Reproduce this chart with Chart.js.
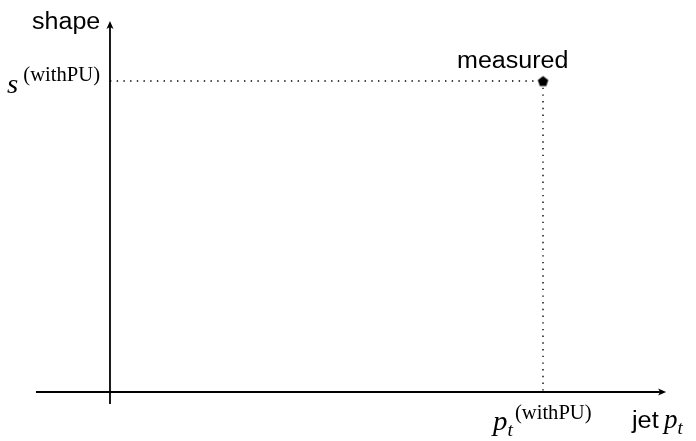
<!DOCTYPE html>
<html>
<head>
<meta charset="utf-8">
<script src="https://cdn.jsdelivr.net/npm/chart.js@4"></script>
<style>
  html, body { margin: 0; padding: 0; background: #fff; }
  #wrap { width: 696px; height: 441px; }
</style>
</head>
<body>
<div id="wrap"><canvas id="c" width="696" height="441"></canvas></div>
<script>
// measured jet (pt, shape) in units where the measured point sits at (1, 1)
const measuredPt = [1];
const measuredShape = [1];
// axis extents: x axis and y axis lines cross at the origin
const xAxisRange = [-0.171, 1.282];
const yAxisRange = [-0.039, 1.19];
// visible window of the plot
const xWindow = [-0.254, 1.3533];
const yWindow = [-0.1576, 1.2605];

// pentagon marker for the measured point
function pentagon(r) {
  const c = document.createElement('canvas');
  const s = Math.ceil(r * 2 + 2);
  c.width = s; c.height = s;
  const g = c.getContext('2d');
  g.beginPath();
  for (let i = 0; i < 5; i++) {
    const a = -Math.PI / 2 + i * 2 * Math.PI / 5;
    const px = s / 2 + r * Math.cos(a), py = s / 2 + 0.6 + r * Math.sin(a);
    i ? g.lineTo(px, py) : g.moveTo(px, py);
  }
  g.closePath();
  g.fillStyle = '#000';
  g.fill();
  return c;
}

function txt(ctx, parts, x, y, sx) {
  // parts: [{t, font, dy, dx}] drawn left to right from x, baseline y
  ctx.save();
  ctx.translate(x, y);
  ctx.scale(sx, 1);
  ctx.textBaseline = 'alphabetic';
  ctx.textAlign = 'left';
  ctx.fillStyle = '#000';
  let cx = 0;
  for (const p of parts) {
    ctx.font = p.font;
    ctx.fillText(p.t, cx + (p.dx || 0), p.dy || 0);
    cx += ctx.measureText(p.t).width + (p.dx || 0);
  }
  ctx.restore();
}

const decor = {
  id: 'decor',
  afterDatasetsDraw(chart) {
    const ctx = chart.ctx;
    const xs = chart.scales.x, ys = chart.scales.y;
    const ox = xs.getPixelForValue(0), oy = ys.getPixelForValue(0);
    ctx.save();
    ctx.fillStyle = '#000';
    // arrow heads
    const ax = xs.getPixelForValue(xAxisRange[1]);
    ctx.beginPath();
    ctx.moveTo(ax + 1, oy);
    ctx.lineTo(ax - 7, oy - 3.5);
    ctx.lineTo(ax - 5, oy);
    ctx.lineTo(ax - 7, oy + 3.5);
    ctx.closePath();
    ctx.fill();
    const ay = ys.getPixelForValue(yAxisRange[1]);
    ctx.beginPath();
    ctx.moveTo(ox, ay - 1);
    ctx.lineTo(ox - 3.5, ay + 7);
    ctx.lineTo(ox, ay + 5);
    ctx.lineTo(ox + 3.5, ay + 7);
    ctx.closePath();
    ctx.fill();
    ctx.restore();

    const px = xs.getPixelForValue(measuredPt[0]);
    const py = ys.getPixelForValue(measuredShape[0]);
    const sans = 'Liberation Sans, Arial, sans-serif';
    const serif = 'Liberation Serif, serif';
    txt(ctx, [{ t: 'shape', font: '23px ' + sans }], ox - 78, 29, 1.09);
    txt(ctx, [{ t: 'measured', font: '23px ' + sans }], px - 86, py - 13, 1.09);
    txt(ctx, [{ t: 's', font: 'italic 28px ' + serif },
              { t: '(withPU)', font: '20px ' + serif, dy: -12, dx: 5 }], ox - 103, py + 12, 1.03);
    txt(ctx, [{ t: 'p', font: 'italic 28px ' + serif },
              { t: 't', font: 'italic 19px ' + serif, dy: 6, dx: 0 },
              { t: '(withPU)', font: '20px ' + serif, dy: -11, dx: 2 }], px - 50, oy + 38, 1.03);
    txt(ctx, [{ t: 'jet', font: '23px ' + sans }], 632, oy + 36, 1.1);
    txt(ctx, [{ t: 'p', font: 'italic 27px ' + serif },
              { t: 't', font: 'italic 19px ' + serif, dy: 6 }], 664, oy + 36, 1.0);
  }
};

new Chart(document.getElementById('c'), {
  type: 'scatter',
  data: {
    datasets: [
      { // horizontal guide to the y axis
        data: [{ x: 0, y: measuredShape[0] }, { x: measuredPt[0], y: measuredShape[0] }],
        showLine: true, borderColor: '#000', borderWidth: 1.4, borderDash: [1.4, 5.3],
        pointRadius: 0
      },
      { // vertical guide to the x axis
        data: [{ x: measuredPt[0], y: measuredShape[0] }, { x: measuredPt[0], y: 0 }],
        showLine: true, borderColor: '#000', borderWidth: 1.4, borderDash: [1.4, 5.3],
        pointRadius: 0
      },
      { // x axis
        data: [{ x: xAxisRange[0], y: 0 }, { x: xAxisRange[1] - 0.012, y: 0 }],
        showLine: true, borderColor: '#000', borderWidth: 1.8, pointRadius: 0
      },
      { // y axis
        data: [{ x: 0, y: yAxisRange[0] }, { x: 0, y: yAxisRange[1] - 0.016 }],
        showLine: true, borderColor: '#000', borderWidth: 1.8, pointRadius: 0
      },
      { // measured point
        data: measuredPt.map((v, i) => ({ x: v, y: measuredShape[i] })),
        pointStyle: pentagon(5.5), pointRadius: 6, showLine: false
      }
    ]
  },
  options: {
    responsive: false,
    animation: false,
    layout: { padding: 0, autoPadding: false },
    plugins: { legend: { display: false }, tooltip: { enabled: false }, title: { display: false } },
    scales: {
      x: { type: 'linear', display: false, min: xWindow[0], max: xWindow[1] },
      y: { type: 'linear', display: false, min: yWindow[0], max: yWindow[1] }
    }
  },
  plugins: [decor]
});
</script>
</body>
</html>
